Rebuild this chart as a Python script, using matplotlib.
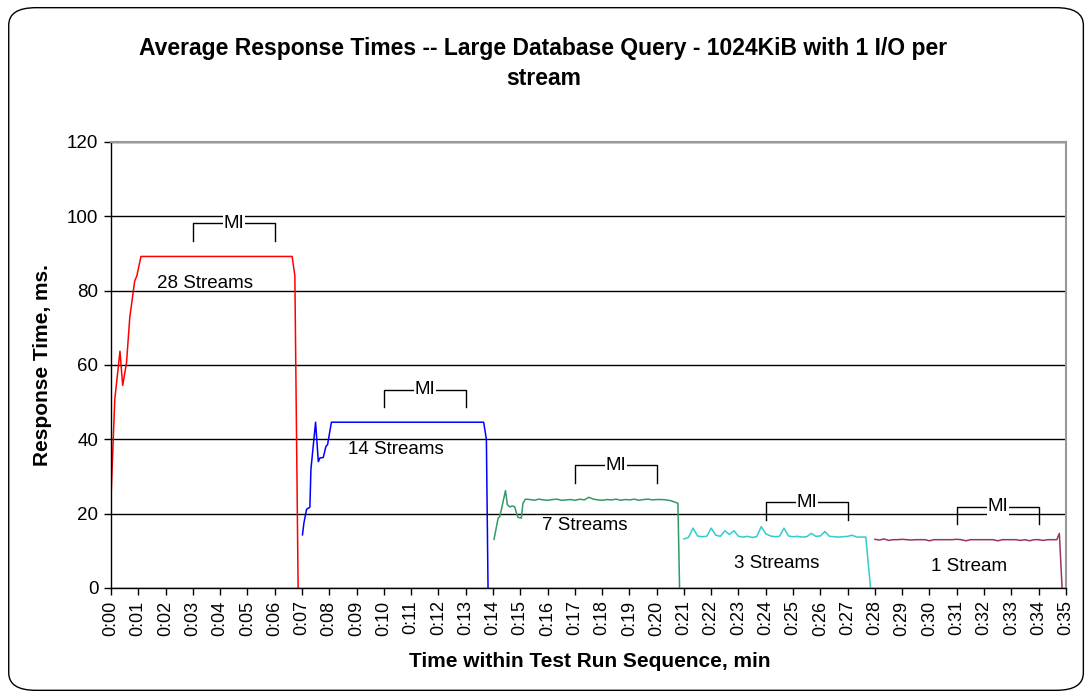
import matplotlib.pyplot as plt
import numpy as np
from matplotlib.patches import FancyBboxPatch

plt.rcParams['font.family'] = ['Liberation Sans', 'DejaVu Sans']

# Response time samples (minutes, ms) for each stream count
t28 = [0.00, 0.14, 0.33, 0.43, 0.57, 0.69, 0.87, 0.95, 1.10, 6.64, 6.74, 6.86]
v28 = [24.0, 50.7, 63.7, 54.5, 60.6, 72.8, 82.6, 84.0, 89.2, 89.2, 84.0, 0.0]

t14 = [7.02, 7.07, 7.17, 7.29, 7.33, 7.50, 7.60, 7.66, 7.78, 7.88, 7.94, 8.08,
       13.66, 13.76, 13.82]
v14 = [14.3, 17.4, 21.2, 21.7, 32.0, 44.6, 34.0, 35.0, 35.1, 38.1, 38.6, 44.6,
       44.6, 40.0, 0.0]

t7_ramp = [14.04, 14.19, 14.25, 14.33, 14.46, 14.53, 14.62, 14.71, 14.80, 14.86,
           14.92, 15.04, 15.10, 15.19]
v7_ramp = [13.1, 18.8, 19.2, 21.8, 26.2, 22.4, 21.8, 22.1, 21.8, 20.2,
           19.0, 18.8, 22.8, 23.9]
v7_flat = [23.8, 23.6, 23.9, 23.7, 23.6, 23.8, 23.9, 23.6, 23.7, 23.8,
           23.6, 23.9, 23.7, 24.4, 23.9, 23.7, 23.6, 23.8, 23.7, 23.9,
           23.6, 23.8, 23.7, 23.9, 23.6, 23.8, 23.9, 23.7, 23.8, 23.8,
           23.7, 23.5]
t7_tail = [20.78, 20.84]
v7_tail = [22.8, 0.0]

v3 = [13.2, 13.6, 16.1, 14.0, 13.8, 13.9, 16.1, 14.2, 13.9, 15.4,
      14.4, 15.4, 13.9, 13.7, 13.9, 13.6, 13.8, 16.5, 14.6, 14.0,
      13.8, 13.9, 16.1, 14.0, 13.8, 13.9, 13.7, 13.8, 14.7, 13.9,
      14.0, 15.2, 13.9, 13.8, 13.7, 13.8, 13.9, 14.2, 13.7, 13.7,
      13.7]
t3_tail = [27.84]
v3_tail = [0.0]

v1 = [13.1, 12.9, 13.2, 12.8, 13.0, 13.0, 13.1, 13.0, 12.9, 13.0,
      13.0, 13.0, 12.7, 13.0, 13.0, 13.0, 13.0, 13.0, 13.1, 13.0,
      12.7, 13.0, 13.0, 13.0, 13.0, 13.0, 13.0, 12.7, 13.0, 13.0,
      13.0, 13.0, 12.8, 13.0, 12.7, 13.0, 13.0, 12.8, 13.0, 13.0,
      13.0]
t1_tail = [34.76, 34.86]
v1_tail = [14.7, 0.0]

# Measurement interval windows (start, end, bracket top) and labels
mi_start = [3.0, 10.0, 17.0, 24.0, 31.0]
mi_end = [6.0, 13.0, 20.0, 27.0, 34.0]
mi_top = [98.2, 53.4, 33.0, 23.1, 21.9]
label_text = ['28 Streams', '14 Streams', '7 Streams', '3 Streams', '1 Stream']
label_x = [3.45, 10.45, 17.35, 24.4, 31.45]
label_y = [82.0, 37.2, 16.8, 6.6, 5.9]

step = 1.0 / 6.0
t7_flat = 15.35 + step * np.arange(len(v7_flat))
t3 = 21.0 + step * np.arange(len(v3))
t1 = 28.0 + step * np.arange(len(v1))

fig = plt.figure(figsize=(10.91, 6.98), dpi=100)
ax = fig.add_axes([0.1017, 0.1576, 0.8753, 0.639])

# Rounded outer frame
fig.patches.append(FancyBboxPatch((0.008, 0.011), 0.985, 0.978,
                                  boxstyle='round,pad=0,rounding_size=0.025',
                                  transform=fig.transFigure, fill=False,
                                  edgecolor='black', linewidth=1.0))

ax.plot(t28, v28, color='#FF0000', lw=1.1)
ax.plot(t14, v14, color='#0000FF', lw=1.1)
ax.plot(np.concatenate([t7_ramp, t7_flat, t7_tail]),
        np.concatenate([v7_ramp, v7_flat, v7_tail]), color='#339966', lw=1.1)
ax.plot(np.concatenate([t3, t3_tail]), np.concatenate([v3, v3_tail]),
        color='#33CCCC', lw=1.1)
ax.plot(np.concatenate([t1, t1_tail]), np.concatenate([v1, v1_tail]),
        color='#993366', lw=1.1)

# MI brackets
for s, e, top in zip(mi_start, mi_end, mi_top):
    ax.plot([s, s, e, e], [top - 4.8, top, top, top - 4.8], color='black', lw=1.0)
    ax.text((s + e) / 2, top, 'MI', ha='center', va='center', fontsize=13.5,
            bbox=dict(facecolor='white', edgecolor='none', pad=0.5))

for txt, x, y in zip(label_text, label_x, label_y):
    ax.text(x, y, txt, ha='center', va='center', fontsize=13.5)

ax.set_xlim(0, 35)
ax.set_ylim(0, 120)
ax.set_yticks(range(0, 121, 20))
ax.set_xticks(range(0, 36))
ax.set_xticklabels(['0:%02d' % m for m in range(36)], rotation=90, fontsize=13)
ax.tick_params(axis='y', labelsize=13.5)
ax.tick_params(direction='out', length=5, width=1.0, color='black', pad=4)
ax.yaxis.grid(True, color='black', lw=1.0)
ax.set_axisbelow(True)

for side in ['top', 'right']:
    ax.spines[side].set_color('#999999')
    ax.spines[side].set_linewidth(1.5)
for side in ['left', 'bottom']:
    ax.spines[side].set_color('black')
    ax.spines[side].set_linewidth(1.0)

fig.text(0.541, 0.052, 'Time within Test Run Sequence, min', ha='center',
         va='center', fontsize=15, fontweight='bold')
fig.text(0.0385, 0.477, 'Response Time, ms.', ha='center', va='center',
         rotation=90, fontsize=15, fontweight='bold')

fig.text(0.498, 0.931, 'Average Response Times -- Large Database Query - 1024KiB with 1 I/O per',
         ha='center', va='center', fontsize=16.5, fontweight='bold')
fig.text(0.498, 0.888, 'stream', ha='center', va='center', fontsize=16.5,
         fontweight='bold')

fig.savefig('out.png', dpi=100)
